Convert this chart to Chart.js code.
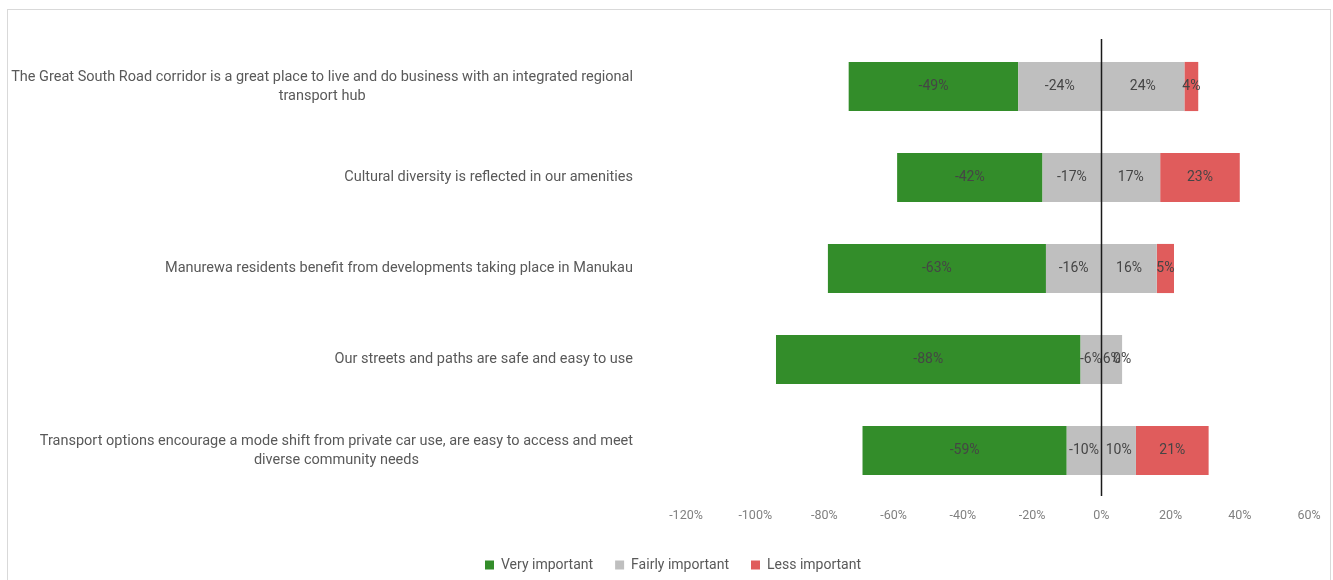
<!DOCTYPE html>
<html lang="en">
<head>
    <meta charset="UTF-8">
    <title>Importance of outcomes</title>
    <style>
        body { margin: 0; background: #fff; overflow: hidden; }
        .box { position: absolute; left: 7px; top: 9px; width: 1324px; height: 590px; border: 1px solid #d9d9d9; box-sizing: border-box; }
        .box canvas { display: block; }
    </style>
</head>
<body>
    <div class="box">
        <canvas id="myChart" width="1322" height="572"></canvas>
    </div>
<script src="https://cdn.jsdelivr.net/npm/chart.js"></script>
<script>
    const categories = [
        ['The Great South Road corridor is a great place to live and do business with an integrated regional', 'transport hub'],
        ['Cultural diversity is reflected in our amenities'],
        ['Manurewa residents benefit from developments taking place in Manukau'],
        ['Our streets and paths are safe and easy to use'],
        ['Transport options encourage a mode shift from private car use, are easy to access and meet', 'diverse community needs']
    ];
    // negative side (drawn left of zero)
    const fairlyNeg = [-24, -17, -16, -6, -10];
    const veryImportant = [-49, -42, -63, -88, -59];
    // positive side
    const fairlyPos = [24, 17, 16, 6, 10];
    const lessImportant = [4, 23, 5, 0, 21];
    const xTicks = [-120, -100, -80, -60, -40, -20, 0, 20, 40, 60];

    const FONT = 'Roboto';
    const GREEN = '#338d2a', GREY = '#bfbfbf', RED = '#e05c5c';

    // labels inside each bar segment
    const segLabels = {
        id: 'segLabels',
        afterDatasetsDraw(chart) {
            const ctx = chart.ctx;
            const xs = chart.scales.x;
            ctx.save();
            ctx.font = '14px ' + FONT;
            ctx.fillStyle = '#454545';
            ctx.textAlign = 'center';
            ctx.textBaseline = 'middle';
            chart.data.datasets.forEach((ds, i) => {
                chart.getDatasetMeta(i).data.forEach((bar, j) => {
                    let x = (bar.x + bar.base) / 2;
                    if (ds.data[j] === 0) {
                        // empty segment: sits at the end of the positive stack
                        x = xs.getPixelForValue(fairlyPos[j]);
                    }
                    ctx.fillText(ds.data[j] + '%', x, bar.y);
                });
            });
            // zero line on top of the bars
            const x0 = Math.round(xs.getPixelForValue(0)) + 0.5;
            ctx.strokeStyle = '#1a1a1a';
            ctx.lineWidth = 1.5;
            ctx.beginPath();
            ctx.moveTo(x0, chart.chartArea.top - 2);
            ctx.lineTo(x0, chart.chartArea.bottom);
            ctx.stroke();
            ctx.restore();
        }
    };

    // category labels: block right aligned, lines centred on each other
    const catLabels = {
        id: 'catLabels',
        afterDraw(chart) {
            const ctx = chart.ctx;
            const ys = chart.scales.y;
            const right = 625;
            const lh = 19;
            ctx.save();
            ctx.font = '14.5px ' + FONT;
            ctx.fillStyle = '#595959';
            ctx.textAlign = 'center';
            ctx.textBaseline = 'middle';
            categories.forEach((lines, i) => {
                const y = ys.getPixelForValue(i);
                const w = Math.max(...lines.map(l => ctx.measureText(l).width));
                const cx = right - w / 2;
                const y0 = y - (lines.length - 1) * lh / 2;
                lines.forEach((l, k) => ctx.fillText(l, cx, y0 + k * lh));
            });
            ctx.restore();
        }
    };

    const data = {
        labels: categories,
        datasets: [
            { label: 'Fairly important', data: fairlyNeg, backgroundColor: GREY, legendHide: true },
            { label: 'Very important', data: veryImportant, backgroundColor: GREEN },
            { label: 'Fairly important', data: fairlyPos, backgroundColor: GREY },
            { label: 'Less important', data: lessImportant, backgroundColor: RED }
        ]
    };

    const legendOrder = ['Very important', 'Fairly important', 'Less important'];

    const config = {
        type: 'bar',
        data: data,
        plugins: [segLabels, catLabels],
        options: {
            indexAxis: 'y',
            responsive: false,
            animation: false,
            categoryPercentage: 1,
            barPercentage: 0.54,
            layout: { padding: { top: 31, right: 0, bottom: 0, left: 8 } },
            scales: {
                x: {
                    stacked: true,
                    min: -120,
                    max: 60,
                    afterBuildTicks: (s) => { s.ticks = xTicks.map(v => ({ value: v })); },
                    grid: { display: false },
                    border: { display: false },
                    ticks: {
                        padding: 4,
                        color: '#808080',
                        font: { family: FONT, size: 12.5 },
                        callback: (v) => v + '%'
                    },
                    afterFit: (s) => { s.height = 40; }
                },
                y: {
                    stacked: true,
                    grid: { display: false },
                    border: { display: false },
                    ticks: { display: false },
                    afterFit: (s) => { s.width = 670; }
                },
                // empty spacer on the right so the plot ends where the reference does
                yRight: {
                    position: 'right',
                    grid: { display: false },
                    border: { display: false },
                    ticks: { display: false },
                    afterFit: (s) => { s.width = 21; }
                }
            },
            plugins: {
                tooltip: { enabled: false },
                legend: {
                    position: 'bottom',
                    labels: {
                        color: '#595959',
                        font: { family: FONT, size: 14 },
                        boxWidth: 9,
                        boxHeight: 9,
                        padding: 22,
                        filter: (item, d) => !d.datasets[item.datasetIndex].legendHide,
                        sort: (a, b) => legendOrder.indexOf(a.text) - legendOrder.indexOf(b.text)
                    }
                }
            }
        }
    };
    const context = document.getElementById('myChart').getContext('2d');
    const myChart = new Chart(context, config);
</script>
</body>
</html>
